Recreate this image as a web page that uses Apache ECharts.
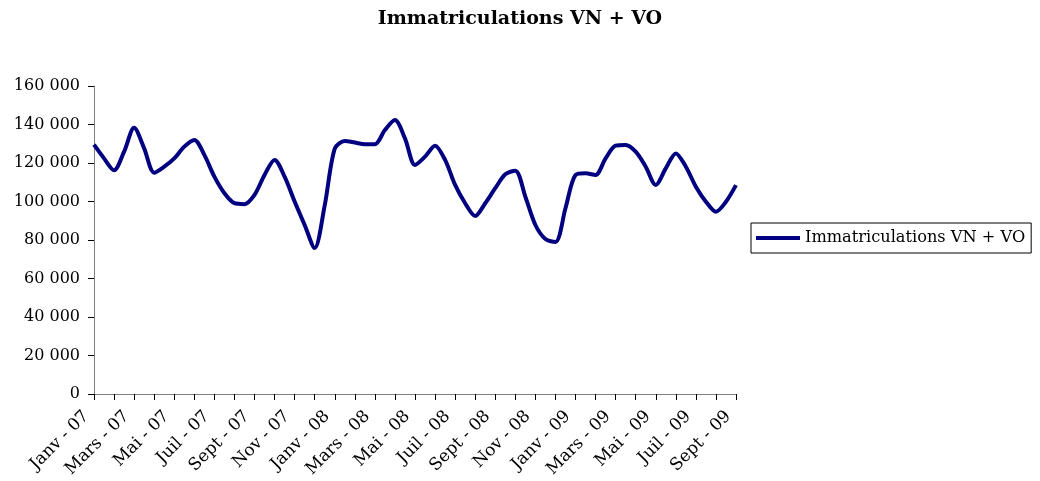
<!DOCTYPE html>
<html>
<head>
<meta charset="utf-8">
<script src="https://cdn.jsdelivr.net/npm/echarts@6/dist/echarts.min.js"></script>
<style>
  html, body { margin: 0; padding: 0; background: #fff; }
  #chart { width: 1040px; height: 481px; }
</style>
</head>
<body>
<div id="chart"></div>
<script>
// une étiquette par mois (axe des abscisses)
const monthLabels = [
  'Janv - 07', 'Févr - 07', 'Mars - 07', 'Avr - 07', 'Mai - 07', 'Juin - 07',
  'Juil - 07', 'Août - 07', 'Sept - 07', 'Oct - 07', 'Nov - 07', 'Déc - 07',
  'Janv - 08', 'Févr - 08', 'Mars - 08', 'Avr - 08', 'Mai - 08', 'Juin - 08',
  'Juil - 08', 'Août - 08', 'Sept - 08', 'Oct - 08', 'Nov - 08', 'Déc - 08',
  'Janv - 09', 'Févr - 09', 'Mars - 09', 'Avr - 09', 'Mai - 09', 'Juin - 09',
  'Juil - 09', 'Août - 09', 'Sept - 09'
];

// deux relevés par mois (début / milieu de mois)
const immatriculations = [
  129500, 122400, 116200, 125900, 138300, 127600, 115000, 118100,
  122400, 128500, 132000, 124200, 112900, 104300, 99100, 98600,
  103400, 113800, 121600, 112900, 100000, 87800, 75800, 98000,
  127500, 131400, 130600, 129700, 129700, 137100, 142300, 132800,
  119000, 123300, 129000, 121600, 108600, 99100, 92500, 99100,
  106900, 114100, 116000, 102500, 87800, 80500, 79000, 96500,
  113800, 114700, 113800, 122400, 129000, 129400, 125900, 118100,
  108600, 117200, 125000, 118100, 107700, 99900, 94700, 99900,
  108500
];

const categories = [];
monthLabels.forEach((m, i) => {
  categories.push(m + '|1');
  if (i < monthLabels.length - 1) categories.push(m + '|2');
});

const font = 'DejaVu Serif';
const chart = echarts.init(document.getElementById('chart'));

chart.setOption({
  animation: false,
  title: {
    text: 'Immatriculations VN + VO',
    left: 'center',
    top: 5,
    textStyle: { fontFamily: font, fontSize: 19, fontWeight: 'bold', color: '#000' }
  },
  legend: {
    left: 751,
    top: 223,
    orient: 'vertical',
    icon: 'rect',
    itemWidth: 44,
    itemHeight: 4,
    padding: [7, 6, 7, 5],
    borderColor: '#000',
    borderWidth: 1,
    textStyle: { fontFamily: font, fontSize: 16.2, color: '#000' },
    data: ['Immatriculations VN + VO']
  },
  grid: { left: 94, right: 304, top: 86, bottom: 87, containLabel: false },
  xAxis: {
    type: 'category',
    boundaryGap: false,
    data: categories,
    axisLine: { lineStyle: { color: '#808080', width: 1 } },
    axisTick: { interval: 1, length: 6, lineStyle: { color: '#000' } },
    axisLabel: {
      interval: 3,
      rotate: 45,
      margin: 12,
      fontFamily: font,
      fontSize: 17,
      color: '#000',
      // espaces en fin pour décaler le texte comme dans Excel
      formatter: v => v.split('|')[0] + '  '
    },
    splitLine: { show: false }
  },
  yAxis: {
    type: 'value',
    min: 0,
    max: 160000,
    interval: 20000,
    axisLine: { show: true, lineStyle: { color: '#808080', width: 1 } },
    axisTick: { show: true, length: 6, lineStyle: { color: '#000' } },
    axisLabel: {
      margin: 14,
      fontFamily: font,
      fontSize: 16,
      color: '#000',
      formatter: v => v.toLocaleString('fr-FR').replace(/\s/g, ' ')
    },
    splitLine: { show: false }
  },
  series: [
    {
      name: 'Immatriculations VN + VO',
      type: 'line',
      data: immatriculations,
      smooth: 0.3,
      showSymbol: false,
      lineStyle: { color: '#000080', width: 4 },
      itemStyle: { color: '#000080' }
    }
  ]
});
</script>
</body>
</html>
